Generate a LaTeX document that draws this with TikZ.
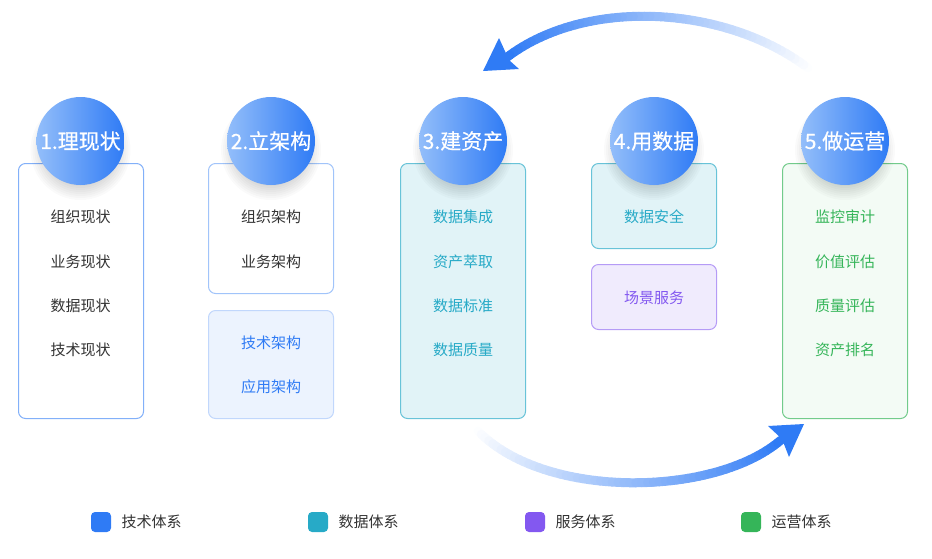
\documentclass[tikz,border=0pt]{standalone}
\usepackage{fontspec}
\setmainfont{Noto Sans CJK SC}
\newfontfamily\titlefont[FakeBold=0.5]{Noto Sans CJK SC}
\definecolor{techblue}{HTML}{2F7BF5}
\definecolor{lightblue}{HTML}{93BEFA}
\definecolor{datateal}{HTML}{27AAC7}
\definecolor{servpurple}{HTML}{8358F0}
\definecolor{opsgreen}{HTML}{35B559}
\definecolor{darktext}{HTML}{333333}

% gradient stroke along a cubic Bezier, from white (start) to blue (end)
\newcommand\gradarc[8]{%
  \foreach \i in {0,...,59}{%
    \pgfmathsetmacro\ta{\i/60}%
    \pgfmathsetmacro\tb{(\i+1)/60}%
    \pgfmathsetmacro\ua{1-\ta}%
    \pgfmathsetmacro\ub{1-\tb}%
    \pgfmathsetmacro\xa{\ua*\ua*\ua*#1+3*\ua*\ua*\ta*#3+3*\ua*\ta*\ta*#5+\ta*\ta*\ta*#7}%
    \pgfmathsetmacro\ya{\ua*\ua*\ua*#2+3*\ua*\ua*\ta*#4+3*\ua*\ta*\ta*#6+\ta*\ta*\ta*#8}%
    \pgfmathsetmacro\xb{\ub*\ub*\ub*#1+3*\ub*\ub*\tb*#3+3*\ub*\tb*\tb*#5+\tb*\tb*\tb*#7}%
    \pgfmathsetmacro\yb{\ub*\ub*\ub*#2+3*\ub*\ub*\tb*#4+3*\ub*\tb*\tb*#6+\tb*\tb*\tb*#8}%
    \pgfmathsetmacro\pc{int(100*\tb)}%
    \draw[line width=9pt, line cap=round, color=techblue!\pc!white] (\xa,\ya) -- (\xb,\yb);
  }%
}

\tikzset{
  card/.style={rectangle, rounded corners=7pt, line width=1pt,
    minimum width=125pt, inner sep=0pt, anchor=north west},
  stage/.style={circle, minimum size=88pt, inner sep=0pt,
    left color=lightblue, right color=techblue, text=white,
    font=\titlefont\fontsize{21}{21}\selectfont},
  item/.style={font=\fontsize{15}{15}\selectfont, text=#1},
  legendbox/.style={rectangle, rounded corners=4pt, minimum size=20pt,
    inner sep=0pt, fill=#1},
  legendtext/.style={anchor=west, font=\fontsize{15}{15}\selectfont, text=darktext},
}

\begin{document}
\begin{tikzpicture}[x=1pt, y=-1pt]
\useasboundingbox (0,0) rectangle (932,558);

% cards
\node[card, draw=techblue!60, fill=white, minimum height=255pt] (b1) at (18,163) {};
\node[card, draw=techblue!45, fill=white, minimum height=130pt] (b2a) at (208,163) {};
\node[card, draw=techblue!30, fill=techblue!9, minimum height=108pt] (b2b) at (208,310) {};
\node[card, draw=datateal!70, fill=datateal!14, minimum height=255pt] (b3) at (400,163) {};
\node[card, draw=datateal!70, fill=datateal!14, minimum height=85pt] (b4a) at (591,163) {};
\node[card, draw=servpurple!60, fill=servpurple!12, minimum height=65pt] (b4b) at (591,264) {};
\node[card, draw=opsgreen!70, fill=opsgreen!6, minimum height=255pt] (b5) at (782,163) {};

% soft shadows under the stage discs
\foreach \cx in {80.5,271,463,654,845}{
  \foreach \r in {30,32,...,50}{
    \fill[black, opacity=0.02] (\cx,150) circle (\r pt);
  }
}

% stage discs
\node[stage] (s1) at (80.5,141) {1.理现状};
\node[stage] (s2) at (271,141) {2.立架构};
\node[stage] (s3) at (463,141) {3.建资产};
\node[stage] (s4) at (654,141) {4.用数据};
\node[stage] (s5) at (845,141) {5.做运营};

% card items
\node[item=darktext] (i11) at (80.5,217) {组织现状};
\node[item=darktext] (i12) at (80.5,262) {业务现状};
\node[item=darktext] (i13) at (80.5,306) {数据现状};
\node[item=darktext] (i14) at (80.5,350) {技术现状};

\node[item=darktext] (i21) at (271,217) {组织架构};
\node[item=darktext] (i22) at (271,262) {业务架构};
\node[item=techblue] (i23) at (271,343) {技术架构};
\node[item=techblue] (i24) at (271,387) {应用架构};

\node[item=datateal] (i31) at (463,217) {数据集成};
\node[item=datateal] (i32) at (463,262) {资产萃取};
\node[item=datateal] (i33) at (463,306) {数据标准};
\node[item=datateal] (i34) at (463,350) {数据质量};

\node[item=datateal] (i41) at (654,217) {数据安全};
\node[item=servpurple] (i42) at (654,298) {场景服务};

\node[item=opsgreen] (i51) at (845,217) {监控审计};
\node[item=opsgreen] (i52) at (845,262) {价值评估};
\node[item=opsgreen] (i53) at (845,306) {质量评估};
\node[item=opsgreen] (i54) at (845,350) {资产排名};

% cycle arrows
\gradarc{808}{68}{725}{5}{585}{-3}{506}{58}
\fill[techblue] (483,71) -- (499,38) -- (509,60) -- (519,69) -- cycle;
\gradarc{478}{431}{545}{500}{715}{497}{781}{440}
\fill[techblue] (804,424) -- (789,457) -- (782,439) -- (768,426) -- cycle;

% legend
\node[legendbox=techblue] (l1) at (101,522) {};
\node[legendtext] (t1) at (118,522) {技术体系};
\node[legendbox=datateal] (l2) at (318,522) {};
\node[legendtext] (t2) at (335,522) {数据体系};
\node[legendbox=servpurple] (l3) at (535,522) {};
\node[legendtext] (t3) at (552,522) {服务体系};
\node[legendbox=opsgreen] (l4) at (751,522) {};
\node[legendtext] (t4) at (768,522) {运营体系};
\end{tikzpicture}
\end{document}
